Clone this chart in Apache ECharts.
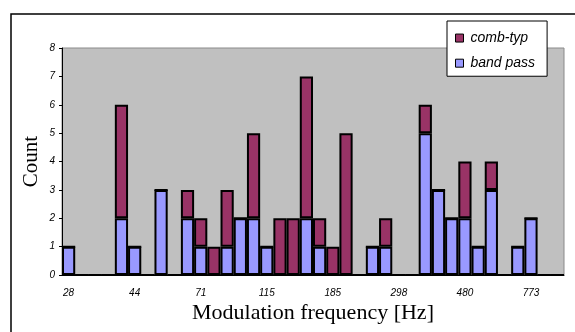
<!DOCTYPE html>
<html>
<head>
    <title>Modulation frequency</title>
    <script src="https://cdn.jsdelivr.net/npm/echarts@6/dist/echarts.min.js"></script>
    <style>body { margin: 0; background: #fff; }</style>
</head>
<body>
    <div id="chart" style="width: 575px;height:332px"></div>

    <script>
        // 38 bins, only every 5th one has a printed label
        const freqLabels = ['28', '', '', '', '', '44', '', '', '', '', '71', '', '', '', '', '115', '', '', '', '',
            '185', '', '', '', '', '298', '', '', '', '', '480', '', '', '', '', '773', '', '']
        const bandPass = [1, 0, 0, 0, 2, 1, 0, 3, 0, 2, 1, 0, 1, 2, 2, 1, 0, 0, 2, 1,
            0, 0, 0, 1, 1, 0, 0, 5, 3, 2, 2, 1, 3, 0, 1, 2, 0, 0]
        const combTyp = [0, 0, 0, 0, 4, 0, 0, 0, 0, 1, 1, 1, 2, 0, 3, 0, 2, 2, 5, 1,
            1, 5, 0, 0, 1, 0, 0, 1, 0, 0, 2, 0, 1, 0, 0, 0, 0, 0]
        const countTicks = [0, 8, 1]   // min, max, step

        const tickFont = { fontFamily: 'Liberation Sans', fontStyle: 'italic', fontSize: 10, color: '#000' }

        const chart = echarts.init(document.getElementById('chart'))
        chart.setOption({
            animation: false,
            graphic: [{
                type: 'rect',
                shape: { x: 11, y: 14, width: 620, height: 400 },
                style: { fill: 'none', stroke: '#000', lineWidth: 1.5 },
                z: 100
            }],
            grid: {
                left: 62, right: 11, top: 48, bottom: 57,
                outerBoundsMode: 'none',
                show: true,
                backgroundColor: '#c0c0c0',
                borderColor: '#8a8a8a',
                borderWidth: 1
            },
            legend: {
                data: ['comb-typ', 'band pass'],
                orient: 'vertical',
                left: 447, top: 21,
                backgroundColor: '#fff',
                borderColor: '#000',
                borderWidth: 1,
                padding: [5, 12, 1, 8],
                itemGap: 1,
                itemWidth: 8, itemHeight: 8,
                icon: 'rect',
                itemStyle: { borderWidth: 1, borderColor: '#000' },
                textStyle: { fontFamily: 'Liberation Sans', fontStyle: 'italic', fontSize: 14, lineHeight: 16, color: '#000', padding: [0, 0, 0, 2] }
            },
            xAxis: {
                type: 'category',
                data: freqLabels,
                name: 'Modulation frequency [Hz]',
                nameLocation: 'middle',
                nameGap: 21,
                nameMoveOverlap: false,
                nameTextStyle: { fontFamily: 'Liberation Serif', fontSize: 22, color: '#000' },
                axisLine: { lineStyle: { color: '#000', width: 1 } },
                axisTick: { interval: 0, length: 4, lineStyle: { color: '#000' } },
                axisLabel: Object.assign({ interval: 0, margin: 10 }, tickFont)
            },
            yAxis: {
                type: 'value',
                min: countTicks[0], max: countTicks[1], interval: countTicks[2],
                name: 'Count',
                nameLocation: 'middle',
                nameGap: 14,
                nameMoveOverlap: false,
                nameTextStyle: { fontFamily: 'Liberation Serif', fontSize: 21, color: '#000' },
                axisLine: { show: true, lineStyle: { color: '#000', width: 1 } },
                axisTick: { show: true, length: 3, lineStyle: { color: '#000' } },
                axisLabel: Object.assign({ margin: 7 }, tickFont),
                splitLine: { show: false }
            },
            series: [{
                name: 'band pass',
                type: 'bar',
                stack: 'n',
                data: bandPass,
                barCategoryGap: '0%',
                itemStyle: { color: '#9999ff', borderColor: '#000', borderWidth: 2 }
            }, {
                name: 'comb-typ',
                type: 'bar',
                stack: 'n',
                data: combTyp,
                barCategoryGap: '0%',
                itemStyle: { color: '#993366', borderColor: '#000', borderWidth: 2 }
            }]
        })
    </script>
</body>
</html>
